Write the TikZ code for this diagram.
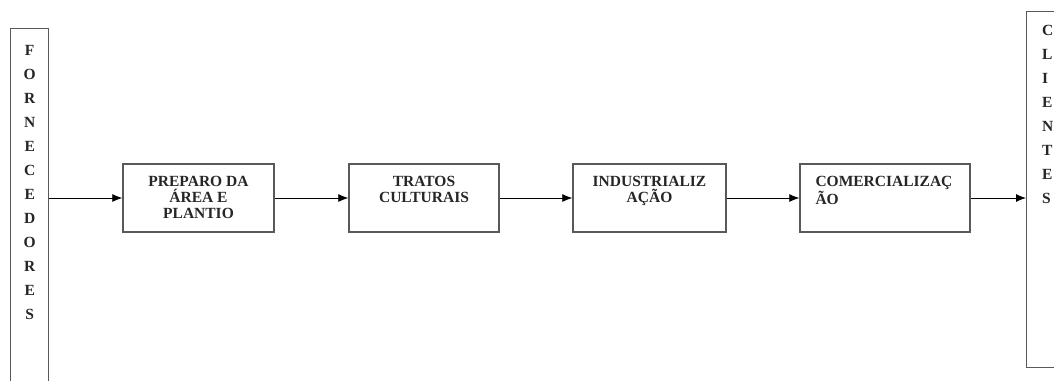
\documentclass[tikz,border=0pt]{standalone}
\usepackage{fontspec}
\setmainfont{Liberation Serif}
\usetikzlibrary{arrows.meta}
\begin{document}
\begin{tikzpicture}[x=1pt,y=-1pt,
  boxst/.style={draw=black!65, line width=1.4pt, inner sep=0pt, fill=white},
  lbl/.style={font=\bfseries\fontsize{15.5}{16}\selectfont, inner sep=0pt, text=black!85},
  vlbl/.style={font=\bfseries\fontsize{15.5}{24}\selectfont, inner sep=0pt, text=black!85},
  conn/.style={draw=black, line width=0.8pt, -{Latex[length=10pt,width=8pt]}}]
\useasboundingbox (0,0) rectangle (1054,380);
\clip (0,0) rectangle (1054,380);
% side boxes
\node[boxst, minimum width=38pt, minimum height=380pt, anchor=north west] (forn) at (10,28) {};
\node[boxst, minimum width=60pt, minimum height=356pt, anchor=north west] (cli) at (1026,11) {};
% process boxes
\node[boxst, minimum width=151pt, minimum height=68pt] (b1) at (198.5,198) {};
\node[boxst, minimum width=150pt, minimum height=68pt] (b2) at (424,198) {};
\node[boxst, minimum width=153pt, minimum height=68pt] (b3) at (649.5,198) {};
\node[boxst, minimum width=170pt, minimum height=68pt] (b4) at (885,198) {};
% texts
\node[vlbl, align=center, anchor=north] (fornt) at ([yshift=-17pt]forn.north) {F\\O\\R\\N\\E\\C\\E\\D\\O\\R\\E\\S};
\node[vlbl, align=left, anchor=north west] (clit) at ([xshift=16pt,yshift=-14pt]cli.north west) {C\\L\\I\\E\\N\\T\\E\\S};
\node[lbl, align=center, anchor=north] (t1) at ([yshift=-13pt]b1.north) {PREPARO DA\\ÁREA E\\PLANTIO};
\node[lbl, align=center, anchor=north] (t2) at ([yshift=-13pt]b2.north) {TRATOS\\CULTURAIS};
\node[lbl, align=center, anchor=north] (t3) at ([yshift=-13pt]b3.north) {INDUSTRIALIZ\\AÇÃO};
\node[lbl, align=left, anchor=north west] (t4) at ([xshift=16pt,yshift=-13pt]b4.north west) {COMERCIALIZAÇ\\ÃO};
% connectors
\draw[conn] (forn.east |- b1.west) -- (b1.west);
\draw[conn] (b1.east) -- (b2.west);
\draw[conn] (b2.east) -- (b3.west);
\draw[conn] (b3.east) -- (b4.west);
\draw[conn] (b4.east) -- (cli.west |- b4.east);
\end{tikzpicture}
\end{document}
